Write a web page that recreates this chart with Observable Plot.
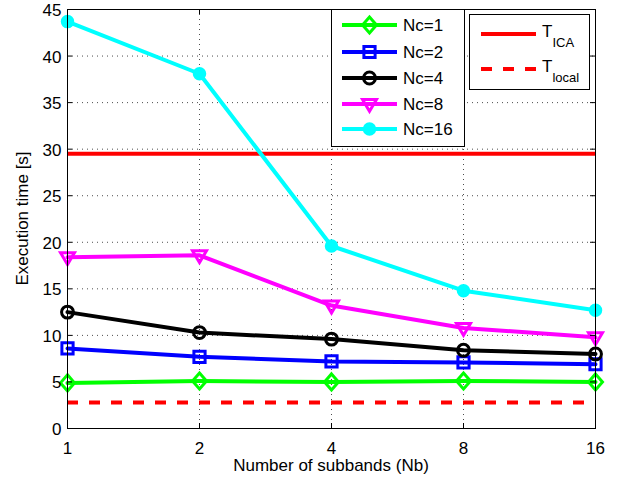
<!DOCTYPE html>
<html>
<head>
<meta charset="utf-8">
<script src="https://cdn.jsdelivr.net/npm/d3@7"></script>
<script src="https://cdn.jsdelivr.net/npm/@observablehq/plot@0.6"></script>
<style>
  html, body { margin: 0; padding: 0; background: #fff; }
  #wrap { position: relative; width: 623px; height: 483px; font-family: "Liberation Sans", Arial, Helvetica, sans-serif; }
  #legend { position: absolute; left: 0; top: 0; pointer-events: none; }
</style>
</head>
<body>
<div id="wrap"></div>
<script>
// ---- data ----
const subbands = [1, 2, 4, 8, 16];
const yTicks = [0, 5, 10, 15, 20, 25, 30, 35, 40, 45];
const seriesNames = ["Nc=1", "Nc=2", "Nc=4", "Nc=8", "Nc=16"];
const nc1 = [4.9, 5.1, 5.0, 5.1, 5.0];
const nc2 = [8.6, 7.7, 7.2, 7.1, 6.9];
const nc4 = [12.5, 10.3, 9.6, 8.4, 8.0];
const nc8 = [18.4, 18.6, 13.2, 10.8, 9.8];
const nc16 = [43.7, 38.1, 19.6, 14.8, 12.7];
const tICA = 29.5;
const tLocal = 2.8;
const refNames = ["ICA", "local"];
const xLabel = "Number of subbands (Nb)";
const yLabel = "Execution time [s]";

// ---- styles ----
const colors = ["#00ff00", "#0000ff", "#000000", "#ff00ff", "#00ffff"];
const symDiamond = { draw(c, size) { const r = Math.sqrt(size / Math.PI); c.moveTo(0, -r * 1.15); c.lineTo(r, 0); c.lineTo(0, r * 1.15); c.lineTo(-r, 0); c.closePath(); } };
const symSquare = { draw(c, size) { const r = Math.sqrt(size / Math.PI) * 0.8; c.moveTo(-r, -r); c.lineTo(r, -r); c.lineTo(r, r); c.lineTo(-r, r); c.closePath(); } };
const symCircle = { draw(c, size) { const r = Math.sqrt(size / Math.PI) * 0.85; c.moveTo(r, 0); c.arc(0, 0, r, 0, 2 * Math.PI); } };
const symTriDown = { draw(c, size) { const r = Math.sqrt(size / Math.PI); c.moveTo(-r, -r * 0.65); c.lineTo(r, -r * 0.65); c.lineTo(0, r * 1.05); c.closePath(); } };
const symDot = { draw(c, size) { const r = Math.sqrt(size / Math.PI) * 0.75; c.moveTo(r, 0); c.arc(0, 0, r, 0, 2 * Math.PI); } };
const symbols = [symDiamond, symSquare, symCircle, symTriDown, symDot];
const filled = [false, false, false, false, true];
const allValues = [nc1, nc2, nc4, nc8, nc16];

const rows = [];
seriesNames.forEach((s, i) => subbands.forEach((nb, j) => rows.push({ series: s, idx: i, nb, t: allValues[i][j] })));

const W = 623, H = 483;
const mL = 67, mR = 28, mT = 9, mB = 55;
const plotH = H - mT - mB, plotW = W - mL - mR;
const font = '"Liberation Sans", Arial, Helvetica, sans-serif';

const marks = [
  Plot.gridX(subbands, { stroke: "#000", strokeOpacity: 0.7, strokeDasharray: "1,4" }),
  Plot.gridY(yTicks, { stroke: "#000", strokeOpacity: 0.7, strokeDasharray: "1,4" }),
  Plot.ruleY([tICA], { stroke: "#ff0000", strokeWidth: 4 }),
  Plot.ruleY([tLocal], { stroke: "#ff0000", strokeWidth: 4, strokeDasharray: "11,11", insetRight: 8 }),
];
seriesNames.forEach((s, i) => {
  const d = rows.filter(r => r.idx === i);
  marks.push(Plot.line(d, { x: "nb", y: "t", stroke: colors[i], strokeWidth: 4 }));
  marks.push(Plot.dot(d, {
    x: "nb", y: "t", r: 7, symbol: symbols[i],
    stroke: colors[i], strokeWidth: 3,
    fill: filled[i] ? colors[i] : "none"
  }));
});
marks.push(
  // inward ticks (bottom / top / left / right)
  Plot.tickX(subbands, { x: d => d, stroke: "#000", insetTop: plotH - 5 }),
  Plot.tickX(subbands, { x: d => d, stroke: "#000", insetBottom: plotH - 5 }),
  Plot.tickY(yTicks, { y: d => d, stroke: "#000", insetRight: plotW - 5 }),
  Plot.tickY(yTicks, { y: d => d, stroke: "#000", insetLeft: plotW - 5 }),
  Plot.frame({ stroke: "#000", strokeWidth: 1 }),
  Plot.axisX(subbands, { tickSize: 0, tickPadding: 13, tickFormat: d => String(d), fontSize: 17, label: null }),
  Plot.axisY(yTicks, { tickSize: 0, tickPadding: 6, fontSize: 17, dy: 1, label: null })
);

const chart = Plot.plot({
  width: W, height: H,
  marginLeft: mL, marginRight: mR, marginTop: mT, marginBottom: mB,
  style: { fontFamily: font, fontSize: "17px", color: "#000", background: "#fff" },
  x: { type: "log", base: 2, domain: [1, 16] },
  y: { domain: [0, 45] },
  marks
});
document.getElementById("wrap").appendChild(chart);

// ---- overlay: axis titles and legends ----
const svg = d3.select("#wrap").append("svg").attr("id", "legend").attr("width", W).attr("height", H);
svg.append("text").attr("x", mL + plotW / 2).attr("y", 471).attr("text-anchor", "middle")
  .attr("font-size", 17).attr("font-family", font).text(xLabel);
svg.append("text").attr("transform", `translate(28,${mT + plotH / 2}) rotate(-90)`).attr("text-anchor", "middle")
  .attr("font-size", 17).attr("font-family", font).text(yLabel);

// legend 1
const l1 = { x: 331, y: 9, w: 133, h: 137 };
svg.append("rect").attr("x", l1.x + 0.5).attr("y", l1.y + 0.5).attr("width", l1.w).attr("height", l1.h)
  .attr("fill", "#fff").attr("stroke", "#000");
const rowY = [25, 52, 78, 104, 129];
seriesNames.forEach((s, i) => {
  const y = rowY[i];
  svg.append("line").attr("x1", 342).attr("x2", 397).attr("y1", y).attr("y2", y).attr("stroke", colors[i]).attr("stroke-width", 4);
  const p = d3.path(); symbols[i].draw(p, Math.PI * 49);
  svg.append("path").attr("d", p.toString()).attr("transform", `translate(369.5,${y})`)
    .attr("stroke", colors[i]).attr("stroke-width", 3).attr("fill", filled[i] ? colors[i] : "none");
  svg.append("text").attr("x", 403).attr("y", y + 6).attr("font-size", 17).attr("font-family", font).text(s);
});
// legend 2
const l2 = { x: 469, y: 14, w: 120, h: 75 };
svg.append("rect").attr("x", l2.x + 0.5).attr("y", l2.y + 0.5).attr("width", l2.w).attr("height", l2.h)
  .attr("fill", "#fff").attr("stroke", "#000");
const refY = [34, 69];
refNames.forEach((n, i) => {
  const y = refY[i];
  svg.append("line").attr("x1", 481).attr("x2", 536).attr("y1", y).attr("y2", y).attr("stroke", "#ff0000").attr("stroke-width", 4)
    .attr("stroke-dasharray", i === 1 ? "11,11" : null);
  const t = svg.append("text").attr("x", 542).attr("y", y + 3).attr("font-size", 17).attr("font-family", font);
  t.append("tspan").text("T");
  t.append("tspan").attr("font-size", 13).attr("dy", 10).text(n);
});
</script>
</body>
</html>
